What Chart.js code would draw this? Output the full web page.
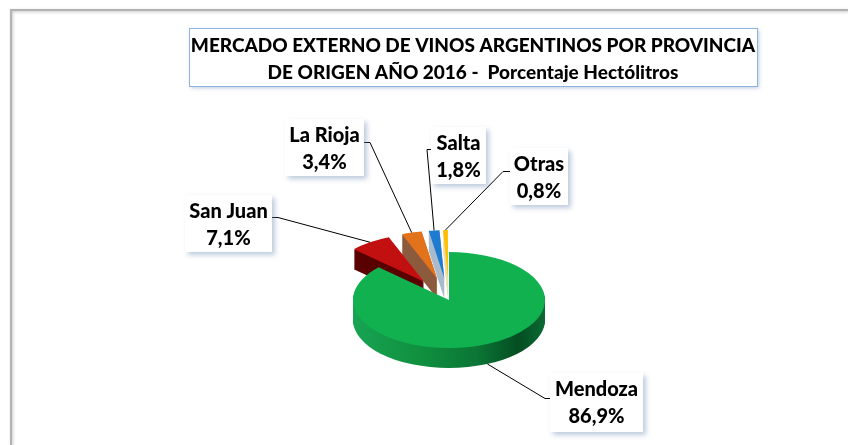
<!DOCTYPE html>
<html>
<head>
<meta charset="utf-8">
<script src="https://cdn.jsdelivr.net/npm/chart.js@4/dist/chart.umd.min.js"></script>
<style>
  html, body { margin: 0; padding: 0; background: #fff; }
  #wrap { width: 848px; height: 445px; position: relative; }
</style>
</head>
<body>
<div id="wrap"><canvas id="pie-chart"></canvas></div>
<script>
const provinces = ['Mendoza', 'San Juan', 'La Rioja', 'Salta', 'Otras'];
const shares = [86.9, 7.1, 3.4, 1.8, 0.8];
const titleLines = [
  'MERCADO EXTERNO DE VINOS ARGENTINOS POR PROVINCIA',
  'DE ORIGEN AÑO 2016 -  Porcentaje Hectólitros'
];

const topColors = ['#11b150', '#c20f0f', '#e3731b', '#1f7bcf', '#ffc000'];
const sideColors = [null, '#5a0202', '#8c5b3e', '#a9bccd', '#efdfae'];
const explode = [0, 44, 44, 44, 44];

const pieCenter = { x: 449, y: 300 };
const squash = 0.5;
const depth = 20;

// label boxes: left, top, width, height + elbow of the leader line
const labelBoxes = [
  { box: [550, 373, 93, 59], elbow: [[545, 398], [550, 398]] },
  { box: [185, 195, 87, 57], elbow: [[278, 217], [272, 217]] },
  { box: [285, 119, 79, 57], elbow: [[370, 142], [364, 142]] },
  { box: [431, 127, 55, 57], elbow: [[427, 149], [431, 149]] },
  { box: [510, 148, 58, 57], elbow: [[503, 171], [510, 171]] }
];

function sideFill(ctx, i, r) {
  if (i !== 0) return sideColors[i];
  const g = ctx.createLinearGradient(-r, 0, r, 0);
  g.addColorStop(0, '#17a453');
  g.addColorStop(0.35, '#10903f');
  g.addColorStop(0.65, '#0b7535');
  g.addColorStop(0.86, '#044d22');
  g.addColorStop(1, '#0b6a33');
  return g;
}

function sliceCenter(arc, i) {
  const mid = (arc.startAngle + arc.endAngle) / 2;
  return {
    x: pieCenter.x + Math.cos(mid) * explode[i],
    y: pieCenter.y + Math.sin(mid) * explode[i] * squash,
    mid
  };
}

const pie3dPlugin = {
  id: 'pie3d',
  beforeDraw(chart) {
    const ctx = chart.ctx;
    ctx.save();
    ctx.fillStyle = '#fff';
    ctx.fillRect(0, 0, chart.width, chart.height);
    // outer frame (cut off on right and bottom)
    ctx.shadowColor = 'rgba(0,0,0,0.25)';
    ctx.shadowBlur = 3;
    ctx.shadowOffsetX = 1;
    ctx.shadowOffsetY = 1;
    ctx.strokeStyle = '#b3b3b3';
    ctx.lineWidth = 2;
    ctx.beginPath();
    ctx.moveTo(11, chart.height);
    ctx.lineTo(11, 10);
    ctx.lineTo(chart.width, 10);
    ctx.stroke();
    ctx.restore();
  },
  beforeDatasetsDraw(chart) {
    const ctx = chart.ctx;
    const arcs = chart.getDatasetMeta(0).data;
    [4, 3, 2, 1, 0].forEach(i => {
      const arc = arcs[i];
      const c = sliceCenter(arc, i);
      for (let d = depth; d >= 1; d--) {
        ctx.save();
        ctx.translate(c.x, c.y + d);
        ctx.scale(1, squash);
        ctx.beginPath();
        ctx.moveTo(0, 0);
        ctx.arc(0, 0, arc.outerRadius, arc.startAngle, arc.endAngle);
        ctx.closePath();
        ctx.fillStyle = sideFill(ctx, i, arc.outerRadius);
        ctx.fill();
        ctx.restore();
      }
      ctx.save();
      ctx.translate(c.x, c.y);
      ctx.scale(1, squash);
      ctx.translate(-arc.x, -arc.y);
      arc.draw(ctx);
      ctx.restore();
    });
    return false;
  },
  afterDraw(chart) {
    const ctx = chart.ctx;
    const arcs = chart.getDatasetMeta(0).data;

    // title box
    ctx.save();
    ctx.shadowColor = 'rgba(110,140,180,0.45)';
    ctx.shadowBlur = 4;
    ctx.shadowOffsetX = 2;
    ctx.shadowOffsetY = 2;
    ctx.fillStyle = '#fff';
    ctx.fillRect(189, 28, 568, 58);
    ctx.restore();
    ctx.save();
    ctx.strokeStyle = '#8db3e2';
    ctx.lineWidth = 1;
    ctx.strokeRect(189.5, 28.5, 568, 58);
    ctx.fillStyle = '#000';
    ctx.font = '900 19px Lato';
    ctx.textAlign = 'center';
    ctx.textBaseline = 'middle';
    ctx.fillText(titleLines[0], 473, 46);
    ctx.fillText(titleLines[1], 473, 73);
    ctx.restore();

    // leader lines + labels
    labelBoxes.forEach((lb, i) => {
      const arc = arcs[i];
      const c = sliceCenter(arc, i);
      const r = arc.outerRadius;
      const ax = c.x + Math.cos(c.mid) * r;
      const ay = c.y + Math.sin(c.mid) * r * squash + (Math.sin(c.mid) > 0 ? depth : 0);

      ctx.save();
      ctx.strokeStyle = '#000';
      ctx.lineWidth = 1;
      ctx.beginPath();
      ctx.moveTo(ax, ay);
      ctx.lineTo(lb.elbow[0][0], lb.elbow[0][1] + 0.5);
      ctx.lineTo(lb.elbow[1][0], lb.elbow[1][1] + 0.5);
      ctx.stroke();
      ctx.restore();

      const [x, y, w, h] = lb.box;
      ctx.save();
      ctx.shadowColor = 'rgba(110,140,180,0.45)';
      ctx.shadowBlur = 5;
      ctx.shadowOffsetX = 3;
      ctx.shadowOffsetY = 3;
      ctx.fillStyle = '#fff';
      ctx.fillRect(x, y, w, h);
      ctx.restore();

      ctx.save();
      ctx.fillStyle = '#000';
      ctx.font = '900 20px Lato';
      ctx.textAlign = 'center';
      ctx.textBaseline = 'middle';
      ctx.fillText(provinces[i], x + w / 2, y + 17);
      ctx.fillText(shares[i].toFixed(1).replace('.', ',') + '%', x + w / 2, y + 44);
      ctx.restore();
    });
  }
};

new Chart(document.getElementById('pie-chart'), {
  type: 'pie',
  data: {
    labels: provinces,
    datasets: [{
      data: shares,
      backgroundColor: topColors,
      borderWidth: 0
    }]
  },
  options: {
    responsive: true,
    maintainAspectRatio: false,
    animation: false,
    events: [],
    radius: 96,
    plugins: {
      legend: { display: false },
      tooltip: { enabled: false }
    }
  },
  plugins: [pie3dPlugin]
});
</script>
</body>
</html>
